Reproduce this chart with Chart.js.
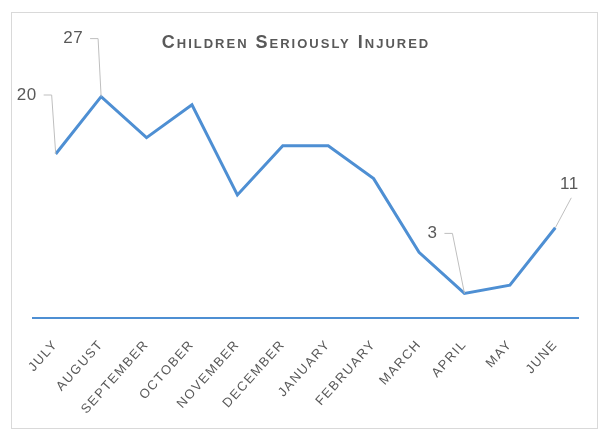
<!DOCTYPE html>
<html>
<head>
<meta charset="utf-8">
<script src="https://cdn.jsdelivr.net/npm/chart.js@4"></script>
<style>
  html, body { margin: 0; padding: 0; background: #fff; }
  #wrap { position: relative; width: 600px; height: 430px; }
</style>
</head>
<body>
<div id="wrap"><canvas id="injuries" width="600" height="430"></canvas></div>
<script>
// Children seriously injured, by month (July - June)
const chartTitle = 'Children Seriously Injured';
const months = ['JULY', 'AUGUST', 'SEPTEMBER', 'OCTOBER', 'NOVEMBER', 'DECEMBER',
                'JANUARY', 'FEBRUARY', 'MARCH', 'APRIL', 'MAY', 'JUNE'];
const injured = [20, 27, 22, 26, 15, 21, 21, 17, 8, 3, 4, 11];

// which points get a called-out value label
const calloutPoints = [0, 1, 9, 11];

const LINE_BLUE = '#4e8fd3';
const TEXT_GREY = '#595959';
const FONT = 'Arial, "Liberation Sans", sans-serif';

// callout leader shapes: label offset from the point, elbow or straight leader
const calloutStyle = {
  0:  { dx: -29, dy: -59, elbow: true },
  1:  { dx: -28, dy: -58, elbow: true },
  9:  { dx: -32, dy: -60, elbow: true },
  11: { dx: 14,  dy: -43, elbow: false },
};

const frameTitleCallouts = {
  id: 'frameTitleCallouts',
  beforeDraw(chart) {
    const ctx = chart.ctx;
    ctx.save();
    ctx.strokeStyle = '#d9d9d9';
    ctx.lineWidth = 1;
    ctx.strokeRect(11.5, 12.5, 586, 416);

    // small-caps, letter-spaced title
    ctx.font = 'bold 18px ' + FONT;
    ctx.fontVariantCaps = 'small-caps';
    ctx.letterSpacing = '2px';
    ctx.fillStyle = TEXT_GREY;
    ctx.textAlign = 'center';
    ctx.textBaseline = 'middle';
    ctx.fillText(chartTitle, 296, 43);
    ctx.restore();

    // letter-spaced tick labels
    ctx.letterSpacing = '1.5px';
  },
  beforeDatasetsDraw(chart) {
    chart.ctx.letterSpacing = '0px';
  },
  afterDatasetsDraw(chart) {
    const ctx = chart.ctx;
    const meta = chart.getDatasetMeta(0);
    ctx.save();
    ctx.font = '17px ' + FONT;
    ctx.letterSpacing = '0.5px';
    ctx.fillStyle = TEXT_GREY;
    ctx.strokeStyle = '#bfbfbf';
    ctx.lineWidth = 1;
    calloutPoints.forEach(i => {
      const pt = meta.data[i];
      const s = calloutStyle[i];
      const lx = pt.x + s.dx, ly = pt.y + s.dy;
      const txt = String(injured[i]);
      ctx.beginPath();
      if (s.elbow) {
        const w = ctx.measureText(txt).width;
        ctx.moveTo(lx + w / 2 + 7, ly);
        ctx.lineTo(lx + w / 2 + 15, ly);
        ctx.lineTo(pt.x, pt.y);
      } else {
        ctx.moveTo(lx + 2, ly + 13);
        ctx.lineTo(pt.x, pt.y);
      }
      ctx.stroke();
      ctx.textAlign = 'center';
      ctx.textBaseline = 'middle';
      ctx.fillText(txt, lx, ly);
    });
    ctx.restore();
  }
};

new Chart(document.getElementById('injuries'), {
  type: 'line',
  data: {
    labels: months,
    datasets: [{
      data: injured,
      borderColor: LINE_BLUE,
      borderWidth: 3,
      pointRadius: 0,
      tension: 0,
      fill: false,
    }]
  },
  options: {
    responsive: false,
    animation: false,
    layout: { padding: { left: 33, right: 22, top: 72, bottom: 0 } },
    scales: {
      x: {
        offset: true,
        grid: { display: false, drawTicks: false },
        border: { display: true, color: LINE_BLUE, width: 2 },
        ticks: {
          color: TEXT_GREY,
          font: { family: FONT, size: 13 },
          minRotation: 48,
          maxRotation: 48,
          padding: 19,
          autoSkip: false,
        },
        afterFit(scale) { scale.height = 112; }
      },
      y: {
        display: false,
        min: 0,
        max: 30,
      }
    },
    plugins: {
      legend: { display: false },
      tooltip: { enabled: false },
      title: { display: false }
    }
  },
  plugins: [frameTitleCallouts]
});
</script>
</body>
</html>
